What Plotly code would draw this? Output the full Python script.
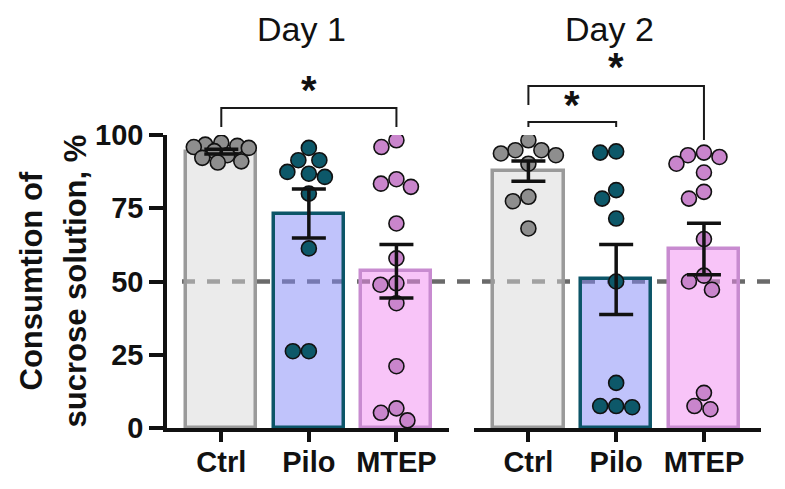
import numpy as np
import plotly.graph_objects as go

# ---------------- data ----------------
categories = ["Ctrl", "Pilo", "MTEP"]
panel_titles = ["Day 1", "Day 2"]
y_ticks = [0, 25, 50, 75, 100]
threshold = 50

day1_ctrl = [97.4, 96.7, 96.3, 95.9, 95.6, 94.5, 93.1, 92.2, 91.0, 90.6]
day1_pilo = [95.6, 91.4, 91.4, 87.4, 86.8, 85.7, 80.0, 61.3, 26.2, 26.2]
day1_mtep = [98.2, 95.9, 84.9, 83.4, 82.3, 69.8, 57.9, 49.4, 48.9, 42.6, 21.1, 6.7, 5.2, 2.6]

day2_ctrl = [98.2, 94.8, 94.8, 93.7, 93.1, 90.2, 78.9, 77.4, 68.1]
day2_pilo = [94.4, 94.0, 81.2, 78.3, 71.5, 50.0, 15.4, 7.5, 7.5, 7.1]
day2_mtep = [94.0, 93.1, 92.5, 90.2, 87.2, 80.6, 78.3, 64.5, 52.0, 50.0, 47.2, 12.0, 7.5, 6.4]

# significance brackets: (panel, group a, group b, label)
comparisons = [(0, 0, 2, "*"), (1, 0, 1, "*"), (1, 0, 2, "*")]

# ---------------- styles ----------------
FONT = "Liberation Sans, Arial, sans-serif"
bar_fill = ["rgba(215,215,215,0.5)", "rgba(129,135,247,0.5)", "rgba(241,137,241,0.5)"]
bar_edge = ["#9a9a9a", "#0c5568", "#c88bd0"]
dot_fill = ["#8e8e8e", "#0d5869", "#c985cc"]

PAGE = 8  # browser body margin around the figure
W, H = 785 - 2 * PAGE, 489 - 2 * PAGE
ML, MR, MT, MB = 167 - PAGE, 24 - PAGE, 135 - PAGE, 61 - PAGE
plot_w = W - ML - MR
plot_h = H - MT - MB
xdom = [[0.0, 0.4747], [0.5168, 1.0]]
xrng = [[-0.62, 2.6], [-0.62, 2.65]]
yrng = [0, 100]
BAR_W = 0.8
DOT = 15

px_per_y = plot_h / (yrng[1] - yrng[0])


def swarm(values, center, px_per_x, diam=16.0, half_limit=27.5):
    """simple beeswarm: place each point at smallest offset without overlap."""
    order = np.argsort(values)[::-1]
    placed = []
    xs = np.zeros(len(values))
    cands = np.arange(-half_limit, half_limit + 0.01, 0.5)
    cands = cands[np.argsort(np.abs(cands), kind="stable")]
    for i in order:
        yp = values[i] * px_per_y
        best, best_d = 0.0, -1
        for c in cands:
            if placed:
                d = min(np.hypot(c - px, yp - py) for px, py in placed)
            else:
                d = 1e9
            if d >= diam:
                best = c
                break
            if d > best_d + 1e-9:
                best_d, best = d, c
        placed.append((best, yp))
        xs[i] = center + best / px_per_x
    return xs


fig = go.Figure()
panels = [[day1_ctrl, day1_pilo, day1_mtep], [day2_ctrl, day2_pilo, day2_mtep]]

for p, groups in enumerate(panels):
    xa = "x" if p == 0 else "x2"
    ya = "y" if p == 0 else "y2"
    px_per_x = plot_w * (xdom[p][1] - xdom[p][0]) / (xrng[p][1] - xrng[p][0])
    means = [float(np.mean(g)) for g in groups]
    sems = [float(np.std(g, ddof=1) / np.sqrt(len(g))) for g in groups]
    xpos = list(range(len(categories)))
    fig.add_trace(go.Bar(
        x=xpos, y=means, width=BAR_W, xaxis=xa, yaxis=ya,
        marker=dict(color=bar_fill, line=dict(color=bar_edge, width=3.5)),
        showlegend=False, hoverinfo="skip"))
    for k, g in enumerate(groups):
        xs = swarm(np.array(g), k, px_per_x)
        fig.add_trace(go.Scatter(
            x=xs, y=g, mode="markers", xaxis=xa, yaxis=ya,
            marker=dict(size=DOT, color=dot_fill[k], line=dict(color="#111111", width=1.6)),
            showlegend=False, hoverinfo="skip"))
    fig.add_trace(go.Scatter(
        x=xpos, y=means, mode="markers", xaxis=xa, yaxis=ya,
        marker=dict(size=1, opacity=0),
        error_y=dict(type="data", array=sems, visible=True, color="#111111",
                     thickness=3.5, width=17),
        showlegend=False, hoverinfo="skip"))

# dashed 50 % line
fig.add_shape(type="line", xref="paper", yref="y",
              x0=(182 - 167) / plot_w, x1=(785 - 167) / plot_w, y0=threshold, y1=threshold,
              line=dict(color="#6a6a6a", width=4.5, dash="13px,12px"), layer="below")


def v2p(v):
    return (v - yrng[0]) / (yrng[1] - yrng[0])


bracket_geom = {  # (top, left leg bottom, right leg bottom, star level, star x)
    (0, 0, 2): (109.2, 102.7, 102.7, 116.8, 1.0),
    (1, 0, 1): (104.4, 102.7, 102.7, 111.7, 0.5),
    (1, 0, 2): (116.7, 110.2, 98.3, 124.5, 1.0),
}
for (p, a, b, lab) in comparisons:
    top, la, lb, sy, sx = bracket_geom[(p, a, b)]
    xa = "x" if p == 0 else "x2"
    path = f"M {a},{v2p(la)} L {a},{v2p(top)} L {b},{v2p(top)} L {b},{v2p(lb)}"
    fig.add_shape(type="path", path=path, xref=xa, yref="paper",
                  line=dict(color="#1a1a1a", width=2))
    fig.add_annotation(text=lab, x=sx, y=v2p(sy), xref=xa, yref="paper",
                       showarrow=False, yanchor="middle", yshift=-4,
                       font=dict(family=FONT, size=40, color="#111111", weight="bold"))

# panel titles
for p, t in enumerate(panel_titles):
    xa = "x" if p == 0 else "x2"
    fig.add_annotation(text=t, x=0.92, y=v2p(136.3), xref=xa, yref="paper",
                       showarrow=False, yanchor="middle",
                       font=dict(family=FONT, size=34, color="#111111"))

# y title (two lines)
for txt, xp in [("Consumtion of", 31), ("sucrose solution, %", 75)]:
    fig.add_annotation(text=txt, x=(xp - 167) / plot_w, y=0.5, xref="paper", yref="paper",
                       textangle=-90, showarrow=False, xanchor="center", yanchor="middle",
                       font=dict(family=FONT, size=31, color="#111111", weight="bold"))

axis_common = dict(showline=True, linecolor="#111111", linewidth=3.5, ticks="outside",
                   tickcolor="#111111", tickwidth=3.5, showgrid=False, zeroline=False,
                   automargin=False,
                   tickfont=dict(family=FONT, size=29, color="#111111", weight="bold"))

fig.update_layout(
    width=W, height=H, margin=dict(l=ML, r=MR, t=MT, b=MB, autoexpand=False),
    plot_bgcolor="white", paper_bgcolor="white", bargap=0,
    xaxis=dict(domain=xdom[0], range=xrng[0], tickvals=[0, 1, 2], ticktext=categories,
               ticklen=10, ticklabelstandoff=-5, anchor="y", **axis_common),
    xaxis2=dict(domain=xdom[1], range=xrng[1], tickvals=[0, 1, 2], ticktext=categories,
                ticklen=10, ticklabelstandoff=-5, anchor="y2", **axis_common),
    yaxis=dict(range=yrng, tickvals=y_ticks, ticklen=14, anchor="x", **axis_common),
    yaxis2=dict(range=yrng, anchor="x2", visible=False, automargin=False),
)

fig.write_html("out.html")
